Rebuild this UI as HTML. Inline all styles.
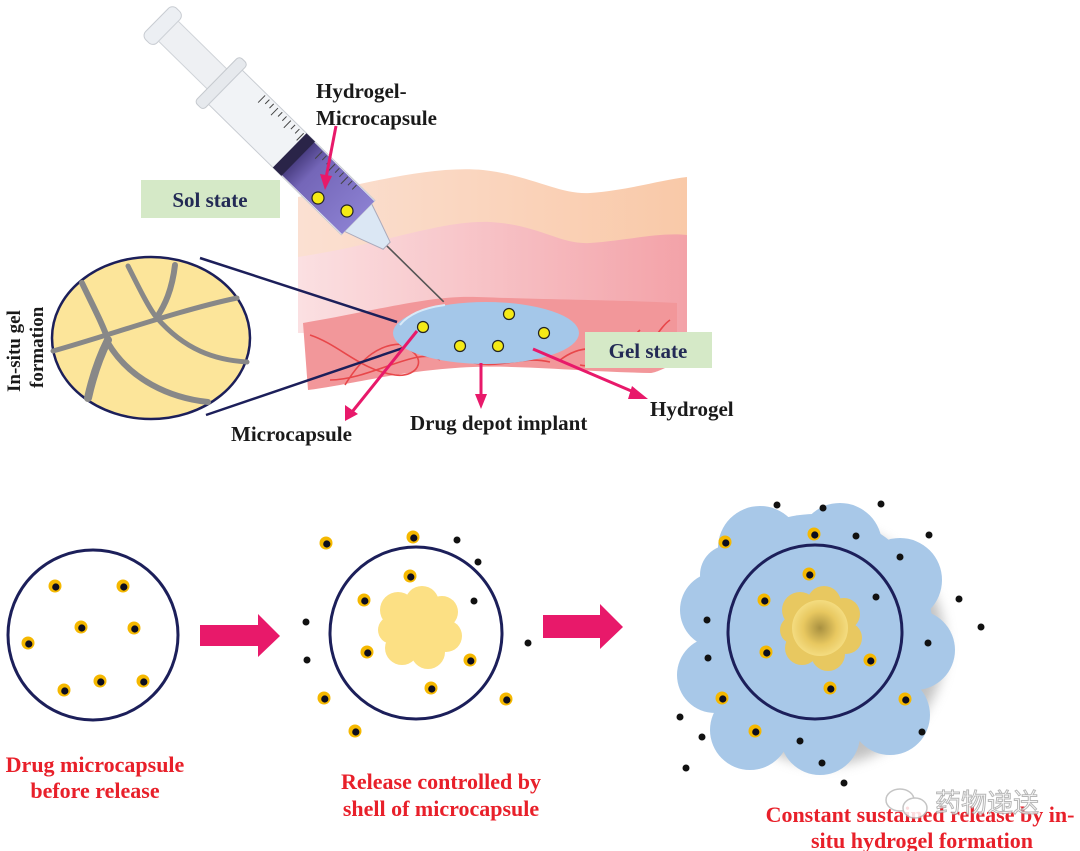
<!DOCTYPE html>
<html><head><meta charset="utf-8"><style>
html,body{margin:0;padding:0;background:#fff;}
svg{display:block;}
.lb{font-family:"Liberation Serif",serif;font-weight:bold;fill:#1a1a1a;}
.rd{font-family:"Liberation Serif",serif;font-weight:bold;fill:#e8202a;font-size:22px;}
</style></head><body>
<svg width="1080" height="851" viewBox="0 0 1080 851" xmlns="http://www.w3.org/2000/svg">
<defs>
<linearGradient id="peach" x1="0" y1="0" x2="1" y2="0"><stop offset="0" stop-color="#fbe0d2"/><stop offset="1" stop-color="#f9c9a8"/></linearGradient>
<linearGradient id="pink" x1="0" y1="0" x2="1" y2="0"><stop offset="0" stop-color="#fbe0e2"/><stop offset="1" stop-color="#f3a2a8"/></linearGradient>
<linearGradient id="purp" x1="0" y1="0" x2="1" y2="0"><stop offset="0" stop-color="#3a2f6e"/><stop offset="0.3" stop-color="#7466b8"/><stop offset="1" stop-color="#8a7fd0"/></linearGradient>
<radialGradient id="blob" cx="0.5" cy="0.5" r="0.5"><stop offset="0" stop-color="#a89040"/><stop offset="0.6" stop-color="#e8c860"/><stop offset="1" stop-color="#f4dc80"/></radialGradient>
<filter id="sh" x="-20%" y="-20%" width="150%" height="150%"><feGaussianBlur stdDeviation="6"/></filter>
<g id="cap"><circle r="6.5" fill="#f5b800"/><circle cx="0.8" cy="1" r="3.6" fill="#0d0d1e"/></g>
</defs>

<!-- skin layers -->
<path d="M298,197 C360,185 430,165 483,170 C530,175 560,195 590,193 C630,190 660,180 687,177 L687,300 L298,300 Z" fill="url(#peach)"/>
<path d="M298,257 C380,245 440,220 490,222 C540,225 560,245 590,243 C630,240 660,232 687,235 L687,333 L298,333 Z" fill="url(#pink)"/>
<path d="M303,323 C380,310 430,295 477,297 C560,300 620,300 677,303 L677,363 C660,370 655,373 650,373 C590,372 520,365 473,367 C400,370 350,385 308,390 Z" fill="#f2979a"/>
<g fill="none" stroke="#e8474a" stroke-width="1.6">
<path d="M310,335 C340,345 360,370 395,375 C420,378 430,355 400,345"/>
<path d="M345,385 C360,360 380,340 410,345"/>
<path d="M330,380 C370,380 420,345 440,360"/>
<path d="M560,360 C580,345 600,345 620,360 C640,372 655,330 670,320"/>
<path d="M640,330 C620,350 600,370 580,365"/>
<path d="M470,362 C500,370 520,355 550,362"/>
</g>

<!-- zoom lines -->
<line x1="200" y1="258" x2="397" y2="322" stroke="#1c1f5a" stroke-width="2.5"/>
<line x1="206" y1="415" x2="403" y2="348" stroke="#1c1f5a" stroke-width="2.5"/>

<!-- zoom circle -->
<ellipse cx="151" cy="338" rx="99" ry="81" fill="#fce59a" stroke="#1c1f5a" stroke-width="2.5"/>
<g fill="none" stroke="#888" stroke-linecap="round">
<path d="M82,283 C95,310 103,325 108,340" stroke-width="6"/>
<path d="M108,340 C98,360 92,380 88,398" stroke-width="8"/>
<path d="M53,351 C110,335 180,310 237,298" stroke-width="5"/>
<path d="M128,266 C140,290 150,310 157,318 C185,350 215,360 247,362" stroke-width="5"/>
<path d="M175,265 C172,290 165,305 157,317" stroke-width="6"/>
<path d="M108,343 C130,380 170,398 208,402" stroke-width="6"/>
</g>

<!-- depot ellipse -->
<ellipse cx="486" cy="333" rx="93" ry="31" fill="#a4c7e9"/>
<path d="M400,325 C410,312 430,307 445,305" fill="none" stroke="#d8eaf8" stroke-width="2"/>
<g fill="#f5ea16" stroke="#222" stroke-width="1.2">
<circle cx="423" cy="327" r="5.5"/><circle cx="509" cy="314" r="5.5"/><circle cx="544" cy="333" r="5.5"/><circle cx="460" cy="346" r="5.5"/><circle cx="498" cy="346" r="5.5"/>
</g>

<!-- syringe -->
<g transform="translate(157,20) rotate(44.5)">
<line x1="320" y1="0" x2="402" y2="0" stroke="#555" stroke-width="1.6"/>
<path d="M280,-20 L300,-13 L322,-5 L322,5 L300,13 L280,20 Z" fill="#dbe7f4" stroke="#aab" stroke-width="1"/>
<rect x="0" y="-22" width="16" height="44" rx="6" fill="#eceff3" stroke="#c8ccd2"/>
<rect x="16" y="-14" width="76" height="28" fill="#eef0f3" stroke="#cfd3d8"/>
<rect x="84" y="-32" width="12" height="64" rx="4" fill="#e6e9ed" stroke="#c5c9ce"/>
<rect x="96" y="-24" width="186" height="48" fill="#f1f3f6" stroke="#c8ccd2"/>
<rect x="190" y="-23" width="92" height="46" fill="url(#purp)"/>
<rect x="186" y="-24" width="12" height="48" fill="#2a2448"/>
<g stroke="#444" stroke-width="1">
<path d="M130,-22 v10 M136,-22 v6 M142,-22 v6 M148,-22 v10 M154,-22 v6 M160,-22 v6 M166,-22 v10 M172,-22 v6 M178,-22 v6 M184,-22 v10 M210,-22 v10 M216,-22 v6 M222,-22 v6 M228,-22 v10 M234,-22 v6 M240,-22 v6 M246,-22 v10 M252,-22 v6 M258,-22 v6"/>
</g>
</g>
<g fill="#f5ea16" stroke="#222" stroke-width="1.2"><circle cx="318" cy="198" r="6"/><circle cx="347" cy="211" r="6"/></g>

<!-- pink arrows -->
<g stroke="#e8196a" stroke-width="3" fill="#e8196a">
<line x1="336" y1="126" x2="326" y2="178"/><path d="M320,174 L325,190 L332,176 Z" stroke="none"/>
<line x1="417" y1="331" x2="352" y2="412"/><path d="M345,405 L345,421 L358,414 Z" stroke="none"/>
<line x1="481" y1="363" x2="481" y2="396"/><path d="M475,394 L481,409 L487,394 Z" stroke="none"/>
<line x1="533" y1="349" x2="636" y2="393"/><path d="M632,386 L648,399 L628,399 Z" stroke="none"/>
</g>

<!-- top labels -->
<rect x="141" y="180" width="139" height="38" fill="#d5e9c7"/>
<text x="210" y="207" class="lb" font-size="21" text-anchor="middle" style="fill:#232a55">Sol state</text>
<rect x="585" y="332" width="127" height="36" fill="#d5e9c7"/>
<text x="648" y="358" class="lb" font-size="21" text-anchor="middle" style="fill:#232a55">Gel state</text>
<text x="316" y="98" class="lb" font-size="21">Hydrogel-</text>
<text x="316" y="125" class="lb" font-size="21">Microcapsule</text>
<text x="231" y="441" class="lb" font-size="21">Microcapsule</text>
<text x="410" y="430" class="lb" font-size="21">Drug depot implant</text>
<text x="650" y="416" class="lb" font-size="21">Hydrogel</text>
<text transform="translate(20,392) rotate(-90)" class="lb" font-size="19">In-situ gel</text>
<text transform="translate(43,388) rotate(-90)" class="lb" font-size="19">formation</text>

<!-- bottom circle 1 -->
<circle cx="93" cy="635" r="85" fill="#fff" stroke="#1c1f5a" stroke-width="3"/>
<use href="#cap" x="55" y="586"/><use href="#cap" x="123" y="586"/><use href="#cap" x="81" y="627"/><use href="#cap" x="134" y="628"/><use href="#cap" x="28" y="643"/><use href="#cap" x="64" y="690"/><use href="#cap" x="100" y="681"/><use href="#cap" x="143" y="681"/>

<!-- arrow 1 -->
<path d="M200,625 L258,625 L258,614 L280,636 L258,657 L258,646 L200,646 Z" fill="#e8196a"/>

<!-- circle 2 -->
<circle cx="416" cy="633" r="86" fill="#fff" stroke="#1c1f5a" stroke-width="3"/>
<g fill="#fce084">
<circle cx="398" cy="610" r="18"/><circle cx="422" cy="603" r="17"/><circle cx="442" cy="612" r="16"/><circle cx="446" cy="636" r="16"/><circle cx="428" cy="652" r="17"/><circle cx="402" cy="648" r="17"/><circle cx="392" cy="630" r="14"/><circle cx="419" cy="628" r="24"/>
</g>
<use href="#cap" x="326" y="543"/><use href="#cap" x="413" y="537"/><use href="#cap" x="410" y="576"/><use href="#cap" x="364" y="600"/><use href="#cap" x="367" y="652"/><use href="#cap" x="324" y="698"/><use href="#cap" x="431" y="688"/><use href="#cap" x="470" y="660"/><use href="#cap" x="506" y="699"/><use href="#cap" x="355" y="731"/>
<g fill="#111"><circle cx="457" cy="540" r="3.5"/><circle cx="478" cy="562" r="3.5"/><circle cx="474" cy="601" r="3.5"/><circle cx="306" cy="622" r="3.5"/><circle cx="307" cy="660" r="3.5"/><circle cx="528" cy="643" r="3.5"/></g>

<!-- arrow 2 -->
<path d="M543,615 L600,615 L600,604 L623,627 L600,649 L600,638 L543,638 Z" fill="#e8196a"/>

<!-- circle 3 cloud -->
<g filter="url(#sh)" fill="#999" opacity="0.6" transform="translate(10,10)">
<circle cx="815" cy="635" r="120"/>
</g>
<g fill="#a8c8e8">
<circle cx="815" cy="632" r="118"/>
<circle cx="760" cy="548" r="42"/><circle cx="840" cy="545" r="42"/><circle cx="900" cy="580" r="42"/><circle cx="915" cy="650" r="40"/><circle cx="890" cy="715" r="40"/><circle cx="820" cy="735" r="40"/><circle cx="750" cy="730" r="40"/><circle cx="715" cy="675" r="38"/><circle cx="718" cy="610" r="38"/><circle cx="730" cy="575" r="30"/>
</g>
<circle cx="815" cy="632" r="87" fill="none" stroke="#1c1f5a" stroke-width="3"/>
<g fill="#e8c860">
<circle cx="800" cy="610" r="18"/><circle cx="824" cy="603" r="17"/><circle cx="844" cy="614" r="16"/><circle cx="846" cy="638" r="16"/><circle cx="828" cy="654" r="17"/><circle cx="802" cy="648" r="17"/><circle cx="794" cy="630" r="14"/>
</g>
<circle cx="820" cy="628" r="28" fill="url(#blob)"/>
<use href="#cap" x="725" y="542"/><use href="#cap" x="814" y="534"/><use href="#cap" x="809" y="574"/><use href="#cap" x="764" y="600"/><use href="#cap" x="766" y="652"/><use href="#cap" x="870" y="660"/><use href="#cap" x="830" y="688"/><use href="#cap" x="722" y="698"/><use href="#cap" x="905" y="699"/><use href="#cap" x="755" y="731"/>
<g fill="#111">
<circle cx="777" cy="505" r="3.5"/><circle cx="823" cy="508" r="3.5"/><circle cx="881" cy="504" r="3.5"/><circle cx="856" cy="536" r="3.5"/><circle cx="929" cy="535" r="3.5"/><circle cx="900" cy="557" r="3.5"/><circle cx="876" cy="597" r="3.5"/><circle cx="959" cy="599" r="3.5"/><circle cx="981" cy="627" r="3.5"/><circle cx="928" cy="643" r="3.5"/><circle cx="707" cy="620" r="3.5"/><circle cx="708" cy="658" r="3.5"/><circle cx="680" cy="717" r="3.5"/><circle cx="702" cy="737" r="3.5"/><circle cx="800" cy="741" r="3.5"/><circle cx="922" cy="732" r="3.5"/><circle cx="822" cy="763" r="3.5"/><circle cx="686" cy="768" r="3.5"/><circle cx="844" cy="783" r="3.5"/>
</g>

<!-- bottom labels -->
<text x="95" y="772" class="rd" text-anchor="middle">Drug microcapsule</text>
<text x="95" y="798" class="rd" text-anchor="middle">before release</text>
<text x="441" y="789" class="rd" text-anchor="middle">Release controlled by</text>
<text x="441" y="816" class="rd" text-anchor="middle">shell of microcapsule</text>
<text x="920" y="822" class="rd" text-anchor="middle">Constant sustained release by in-</text>
<text x="922" y="848" class="rd" text-anchor="middle">situ hydrogel formation</text>

<!-- watermark -->
<g opacity="0.85">
<ellipse cx="900" cy="800" rx="14" ry="11" fill="#fff" stroke="#bbb" stroke-width="1.5"/>
<ellipse cx="915" cy="808" rx="12" ry="10" fill="#fff" stroke="#bbb" stroke-width="1.5"/>
<text x="935" y="812" font-family="'Noto Sans CJK SC',sans-serif" font-size="26" fill="#fff" stroke="#aaa" stroke-width="1">药物递送</text>
</g>
</svg>
</body></html>
